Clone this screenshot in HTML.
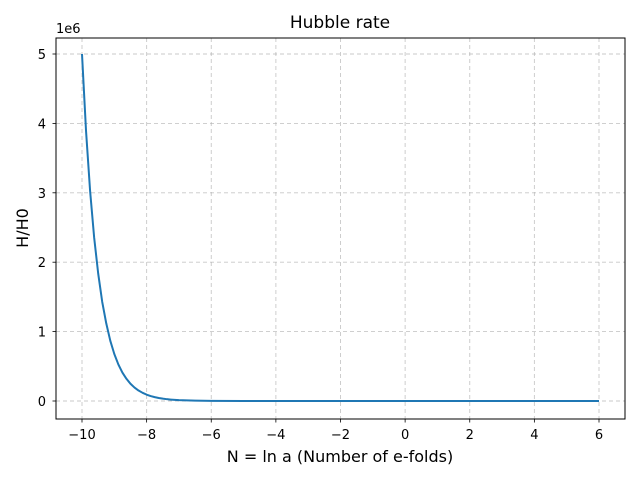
<!DOCTYPE html>
<html><head><meta charset="utf-8"><style>
body{margin:0;background:#fff;}
svg{display:block;font-family:"DejaVu Sans","Liberation Sans",sans-serif;}
</style></head><body>
<svg id="chart" width="640" height="480" xmlns="http://www.w3.org/2000/svg">
<rect width="640" height="480" fill="#fff"/>
<g id="grid"></g>
<g id="series"></g>
<rect x="56" y="38" width="569" height="381" fill="none" stroke="#000" stroke-width="1"/>
<g id="ticks"></g>
<text x="340" y="28" font-size="17" text-anchor="middle">Hubble rate</text>
<text x="56" y="33" font-size="13">1e6</text>
<text x="340" y="462" font-size="16" text-anchor="middle">N = ln a (Number of e-folds)</text>
<text x="28" y="228" font-size="16" text-anchor="middle" transform="rotate(-90 28 228)">H/H0</text>
</svg>
<script>
const xTicks=[-10,-8,-6,-4,-2,0,2,4,6];
const xTickLabels=["\u221210","\u22128","\u22126","\u22124","\u22122","0","2","4","6"];
const yTicks=[0,1,2,3,4,5];
const yTickLabels=["0","1","2","3","4","5"];
const nValues=[-10,-9.875,-9.75,-9.625,-9.5,-9.375,-9.25,-9.125,-9,-8.875,-8.75,-8.625,-8.5,-8.375,-8.25,-8.125,-8,-7.875,-7.75,-7.625,-7.5,-7.375,-7.25,-7.125,-7,-6.5,-6,-5,-4,-2,0,2,4,6];
const hValues=[5.00,3.89,3.03,2.36,1.84,1.43,1.12,0.869,0.677,0.527,0.410,0.320,0.249,0.194,0.151,0.118,0.0916,0.0713,0.0556,0.0433,0.0337,0.0262,0.0204,0.0159,0.0124,0.0046,0.0017,0.00023,0.00003,0.000001,0,0,0,0];

const NS="http://www.w3.org/2000/svg";
const X=v=>82+(v+10)*(599-82)/16;
const Y=v=>401-v*(401-54)/5;
const grid=document.getElementById('grid'),ticks=document.getElementById('ticks'),series=document.getElementById('series');
function mk(tag,attrs,parent){const e=document.createElementNS(NS,tag);for(const k in attrs)e.setAttribute(k,attrs[k]);parent.appendChild(e);return e;}
xTicks.forEach((t,i)=>{
  const g=mk('line',{x1:X(t),x2:X(t),y1:38,y2:419,stroke:'#b0b0b0','stroke-width':0.9,'stroke-dasharray':'4,3','stroke-opacity':0.7},grid);
  
  
  const tk=mk('line',{x1:X(t),x2:X(t),y1:419,y2:422.5,stroke:'#000','stroke-width':0.8},ticks);
  
  
  const tx=mk('text',{x:X(t),y:439,'font-size':13,'text-anchor':'middle'},ticks);
  tx.textContent=xTickLabels[i];
  
  
});
yTicks.forEach((t,i)=>{
  const g=mk('line',{x1:56,x2:625,y1:Y(t),y2:Y(t),stroke:'#b0b0b0','stroke-width':0.9,'stroke-dasharray':'4,3','stroke-opacity':0.7},grid);
  
  
  const tk=mk('line',{x1:52.5,x2:56,y1:Y(t),y2:Y(t),stroke:'#000','stroke-width':0.8},ticks);
  
  
  const tx=mk('text',{x:46,y:Y(t)+5,'font-size':13,'text-anchor':'end'},ticks);
  tx.textContent=yTickLabels[i];
  
  
});
const pts=nValues.map((n,i)=>X(n).toFixed(2)+','+Y(hValues[i]).toFixed(2)).join(' ');
const line=mk('polyline',{points:pts,fill:'none',stroke:'#1f77b4','stroke-width':2,'stroke-linejoin':'round'},series);


</script>
</body></html>
